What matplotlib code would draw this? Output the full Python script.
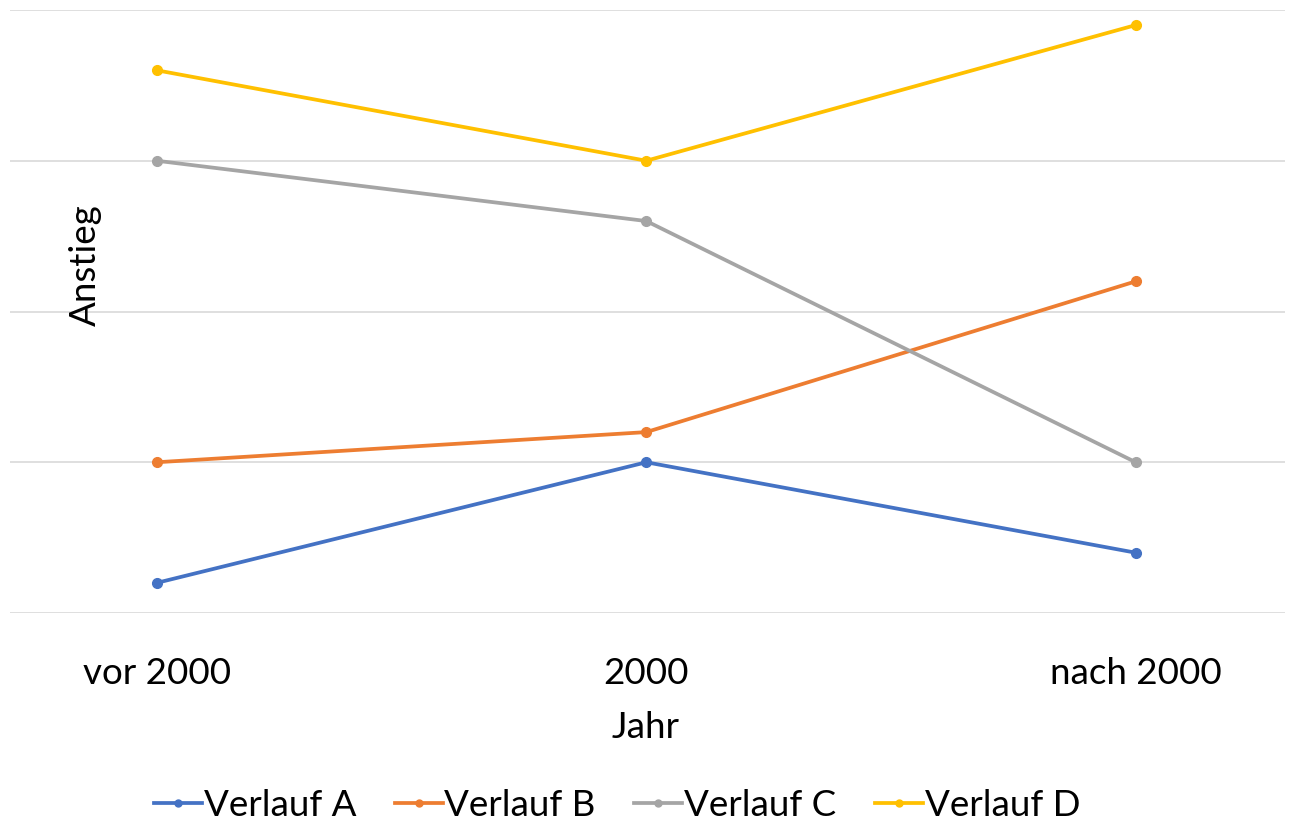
import matplotlib
matplotlib.use("Agg")
import matplotlib.pyplot as plt
from matplotlib.lines import Line2D

plt.rcParams['font.family'] = ['Lato', 'DejaVu Sans']

categories = ["vor 2000", "2000", "nach 2000"]
series_names = ["Verlauf A", "Verlauf B", "Verlauf C", "Verlauf D"]
verlauf_a = [0.2, 1.0, 0.4]
verlauf_b = [1.0, 1.2, 2.2]
verlauf_c = [3.0, 2.6, 1.0]
verlauf_d = [3.6, 3.0, 3.9]
colors = ["#4472C4", "#ED7D31", "#A5A5A5", "#FFC000"]

W, H = 1293, 825
fig = plt.figure(figsize=(W / 100, H / 100), dpi=100)
ax = fig.add_axes([10 / W, 1 - 613 / H, (1285 - 10) / W, (613 - 10) / H])

x = list(range(len(categories)))
for vals, c, name in zip([verlauf_a, verlauf_b, verlauf_c, verlauf_d], colors, series_names):
    ax.plot(x, vals, color=c, lw=2.7, marker='o', ms=7, label=name, solid_capstyle='round')

ax.set_xlim(-0.3, 2.305)
ax.set_ylim(0, 4)
ax.set_yticks([0, 1, 2, 3, 4])
ax.yaxis.grid(True, color='#D9D9D9', lw=1.2)
ax.set_axisbelow(True)
ax.tick_params(axis='y', left=False, labelleft=False)
ax.tick_params(axis='x', bottom=False, labelsize=26.5, pad=28)
ax.set_xticks(x)
ax.set_xticklabels(categories)
for s in ax.spines.values():
    s.set_visible(False)

fig.text(646 / W, 1 - 728 / H, "Jahr", ha='center', va='center', fontsize=26.5)
fig.text(85 / W, 1 - 265 / H, "Anstieg", ha='center', va='center', rotation=90, fontsize=26.5)

handles = [Line2D([0], [0], color=c, lw=2.7, marker='o', ms=5) for c in colors]
fig.legend(handles, series_names, loc='center', bbox_to_anchor=(617 / W, 1 - 805 / H), ncol=4,
           frameon=False, fontsize=26.5, handlelength=1.3, handletextpad=0.05, columnspacing=1.05)

fig.savefig("out.png", dpi=100)
